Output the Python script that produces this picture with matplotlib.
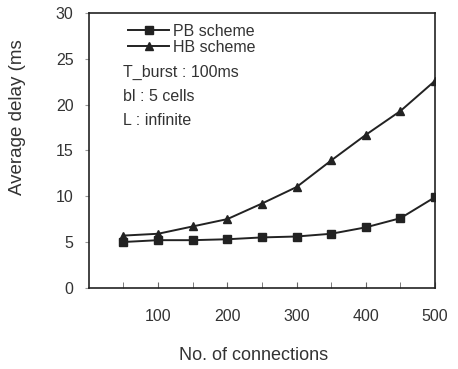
import matplotlib.pyplot as plt

plt.rcParams['font.family'] = ['Liberation Sans', 'DejaVu Sans']

# Data
connections = [50, 100, 150, 200, 250, 300, 350, 400, 450, 500]
pb_delay = [5.0, 5.2, 5.2, 5.3, 5.5, 5.6, 5.9, 6.6, 7.6, 9.9]
hb_delay = [5.7, 5.9, 6.7, 7.5, 9.2, 11.0, 13.9, 16.7, 19.3, 22.6]
x_ticks = [100, 200, 300, 400, 500]
y_ticks = [0, 5, 10, 15, 20, 25, 30]
notes = ["T_burst : 100ms", "bl : 5 cells", "L : infinite"]

line_color = '#222222'
text_color = '#333333'

fig = plt.figure(figsize=(4.58, 3.69), dpi=100)
ax = fig.add_axes([0.194, 0.22, 0.756, 0.745])

ax.plot(connections, pb_delay, color=line_color, lw=1.4, marker='s',
        markersize=6, label='PB scheme')
ax.plot(connections, hb_delay, color=line_color, lw=1.4, marker='^',
        markersize=6, label='HB scheme')

ax.set_xlim(0, 500)
ax.set_ylim(0, 30)
ax.set_xticks(x_ticks)
ax.set_xticks(range(50, 500, 50), minor=True)
ax.set_yticks(y_ticks)
ax.tick_params(axis='x', which='both', direction='in', length=4,
               labelsize=11.5, labelcolor=text_color, pad=15, color='#666666')
ax.tick_params(axis='y', direction='out', length=3, labelsize=11.5,
               labelcolor=text_color, pad=8, color='#999999')
for s in ax.spines.values():
    s.set_color(line_color)
    s.set_linewidth(1.2)

ax.set_xlabel("No. of connections", fontsize=13, color=text_color)
ax.xaxis.set_label_coords(0.477, -0.215)
ax.set_ylabel("Average delay (ms", fontsize=13.5, color=text_color)
ax.yaxis.set_label_coords(-0.182, 0.62)

leg = ax.legend(loc='upper left', bbox_to_anchor=(0.085, 0.995), frameon=False,
                fontsize=11.5, handlelength=2.6, handletextpad=0.25,
                labelspacing=0.05, borderaxespad=0.2)
for t in leg.get_texts():
    t.set_color(text_color)

for i, note in enumerate(notes):
    ax.text(0.098, 0.782 - i * 0.087, note, transform=ax.transAxes,
            fontsize=11.5, color=text_color, va='center', ha='left')

fig.savefig("out.png", dpi=100)
